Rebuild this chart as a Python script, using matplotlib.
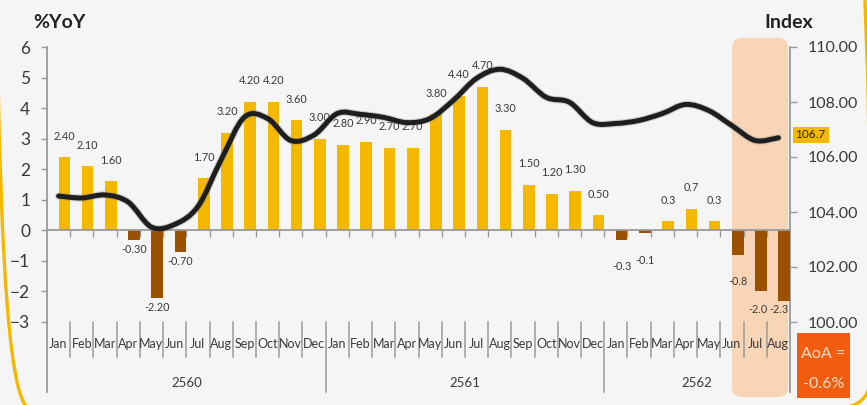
import numpy as np
import matplotlib
matplotlib.use("Agg")
import matplotlib.pyplot as plt
from matplotlib.path import Path
from matplotlib.patches import PathPatch, FancyBboxPatch, Rectangle
import matplotlib.transforms as mtransforms

plt.rcParams['font.family'] = ['Lato', 'DejaVu Sans']

# ---------------- data ----------------
month_names = ['Jan', 'Feb', 'Mar', 'Apr', 'May', 'Jun', 'Jul', 'Aug', 'Sep', 'Oct', 'Nov', 'Dec']
years = ['2560', '2561', '2562']
months_per_year = [12, 12, 8]
label_decimals = [2, 2, 1]

yoy = [2.40, 2.10, 1.60, -0.30, -2.20, -0.70, 1.70, 3.20, 4.20, 4.20, 3.60, 3.00,
       2.80, 2.90, 2.70, 2.70, 3.80, 4.40, 4.70, 3.30, 1.50, 1.20, 1.30, 0.50,
       -0.3, -0.1, 0.3, 0.7, 0.3, -0.8, -2.0, -2.3]

index_vals = [104.58, 104.51, 104.62, 104.36, 103.45, 103.55, 104.20, 105.90, 107.45, 107.40, 106.60, 106.80,
              107.58, 107.55, 107.44, 107.25, 107.40, 108.06, 108.86, 109.19, 108.86, 108.17, 107.99, 107.25,
              107.22, 107.33, 107.58, 107.91, 107.69, 107.14, 106.60, 106.70]

last_index_label = '106.7'
aoa_text = ['AoA =', '-0.6%']
highlight_months = (29, 31)   # Jun..Aug 2562

# ---------------- style ----------------
BG = '#F5F5F5'
YELLOW = '#F5B800'
BROWN = '#9C5100'
PEACH = '#F8D5B6'
ORANGE = '#F25C0F'
GRAY = '#9A9A9A'
TXT = '#3A3A3A'

months = [m for n in months_per_year for m in month_names[:n]]
year_of = [k for k, n in enumerate(months_per_year) for _ in range(n)]
N = len(yoy)
x = np.arange(N)

W, H, DPI = 8.67, 4.05, 100
fig = plt.figure(figsize=(W, H), dpi=DPI, facecolor=BG)
ax = fig.add_axes([47 / 867, 1 - 322 / 405, 743 / 867, 275 / 405])
ax.set_facecolor('none')
ax.set_xlim(-0.5, N - 0.5)
ax.set_ylim(-3, 6)

ax2 = ax.twinx()
ax2.set_ylim(100, 110)
ax2.set_facecolor('none')

# highlight box (behind axes)
px = lambda p: p / DPI
x0 = ax.transData.transform((highlight_months[0], 0))[0]
x1 = ax.transData.transform((highlight_months[1] + 0.42, 0))[0]
y0 = ax.transAxes.transform((0, -0.273))[1]
y1 = ax.transAxes.transform((0, 1.033))[1]
hl = FancyBboxPatch((px(x0), px(y0)), px(x1 - x0), px(y1 - y0),
                    boxstyle='round,pad=0,rounding_size=0.1',
                    transform=fig.dpi_scale_trans, facecolor=PEACH, edgecolor='none', zorder=-5)
fig.patches.append(hl)

# bars
colors = [YELLOW if v >= 0 else BROWN for v in yoy]
ax.bar(x, yoy, width=0.5, align='edge', color=colors, zorder=2)

# value labels
neg_offsets = {30: (-0.13, 18), 31: (-0.22, 9)}
for i, v in enumerate(yoy):
    d = label_decimals[year_of[i]]
    s = f'{v:.{d}f}'
    bx = i + 0.25
    if v >= 0:
        dx, dy = 0.0, 21
    else:
        dx, dy = neg_offsets.get(i, (0.0, 27 if year_of[i] == 2 else 10))
        dy = -dy
    ax.annotate(s, (bx + dx, v), xytext=(0, dy * 72 / DPI), textcoords='offset points',
                ha='center', va='center', fontsize=7.8, color=TXT, zorder=3)

# zero line with ticks at separators
for s in ['top', 'right', 'left']:
    ax.spines[s].set_visible(False)
    ax2.spines[s].set_visible(False)
ax2.spines['bottom'].set_visible(False)
ax.spines['bottom'].set_position(('data', 0))
ax.spines['bottom'].set_color(GRAY)
ax.spines['bottom'].set_linewidth(1.3)
ax.set_xticks(np.arange(0.5, N - 1, 1))
ax.tick_params(axis='x', length=5, width=1, color=GRAY, labelbottom=False, direction='out')

# y axes
ax.set_yticks(range(-3, 7))
ax.tick_params(axis='y', length=4, width=1, color=GRAY, labelsize=12.5, labelcolor=TXT, pad=8)
ax2.set_yticks(range(100, 111, 2))
ax2.set_yticklabels([f'{t:.2f}' for t in range(100, 111, 2)])
ax2.tick_params(axis='y', length=5, width=1, color=GRAY, labelsize=11.5, labelcolor=TXT, pad=8)

blend = mtransforms.blended_transform_factory(ax.transData, ax.transAxes)
# axis lines (extend below into the category area)
for xv in (-0.5, N - 0.5):
    ax.plot([xv, xv], [-0.2545, 1.0], transform=blend, color=GRAY, lw=1.3, clip_on=False, zorder=1)

# category separators and labels
year_starts = np.cumsum([0] + months_per_year)
for i in range(N - 1):
    xs = i + 0.5
    low = -0.2545 if (i + 1) in year_starts else -0.127
    ax.plot([xs, xs], [low, 0.0], transform=blend, color=GRAY, lw=1.1, clip_on=False)
for i, m in enumerate(months):
    ax.text(i, -0.0945, m, transform=blend, ha='center', va='baseline', fontsize=9, color=TXT)
for k, yname in enumerate(years):
    cx = (year_starts[k] + year_starts[k + 1] - 1) / 2
    ax.text(cx, -0.236, yname, transform=blend, ha='center', va='baseline', fontsize=9.5, color=TXT)

# smooth index line (cubic Bezier through each data point)
P = np.column_stack([x, index_vals]).astype(float)
verts = [tuple(P[0])]
codes = [Path.MOVETO]
for i in range(N - 1):
    p_prev = P[i - 1] if i > 0 else P[i]
    p_next2 = P[i + 2] if i + 2 < N else P[i + 1]
    c1 = P[i] + (P[i + 1] - p_prev) / 6.0
    c2 = P[i + 1] - (p_next2 - P[i]) / 6.0
    verts += [tuple(c1), tuple(c2), tuple(P[i + 1])]
    codes += [Path.CURVE4] * 3
path = Path(verts, codes)
ax2.add_patch(PathPatch(path, facecolor='none', edgecolor='#888888', lw=5.2, alpha=0.35,
                        capstyle='round', zorder=4))
ax2.add_patch(PathPatch(path, facecolor='none', edgecolor='#1E1E1E', lw=3.6,
                        capstyle='round', zorder=5))

# last value label on right axis
ax2.annotate(last_index_label, (N - 0.5, index_vals[-1]), xytext=(4, 2), textcoords='offset points',
             ha='left', va='center', fontsize=8.5, color='#222222', annotation_clip=False,
             bbox=dict(boxstyle='square,pad=0.25', facecolor=YELLOW, edgecolor='none'))

# titles
fig.text(59 / 867, 1 - 28 / 405, '%YoY', ha='center', va='baseline', fontsize=14,
         fontweight='bold', color='#222222')
fig.text(789 / 867, 1 - 28 / 405, 'Index', ha='center', va='baseline', fontsize=14,
         fontweight='bold', color='#222222')

# AoA box
fig.patches.append(Rectangle((797 / 867, 1 - 398 / 405), 53 / 867, 65 / 405,
                             transform=fig.transFigure, facecolor=ORANGE, edgecolor='none'))
fig.text(823.5 / 867, 1 - 354 / 405, aoa_text[0], ha='center', va='center', fontsize=11.5, color='#FDE2CF')
fig.text(823.5 / 867, 1 - 384 / 405, aoa_text[1], ha='center', va='center', fontsize=11.5, color='#FDE2CF')

# outer yellow frame (rounded corners at the bottom)
fig.patches.append(FancyBboxPatch((px(-4), px(405 - 408)), px(875), px(600),
                                  boxstyle='round,pad=0,rounding_size=0.34',
                                  transform=fig.dpi_scale_trans, facecolor='none',
                                  edgecolor=YELLOW, lw=2.4, zorder=10))

fig.savefig('out.png', dpi=DPI, facecolor=BG)
